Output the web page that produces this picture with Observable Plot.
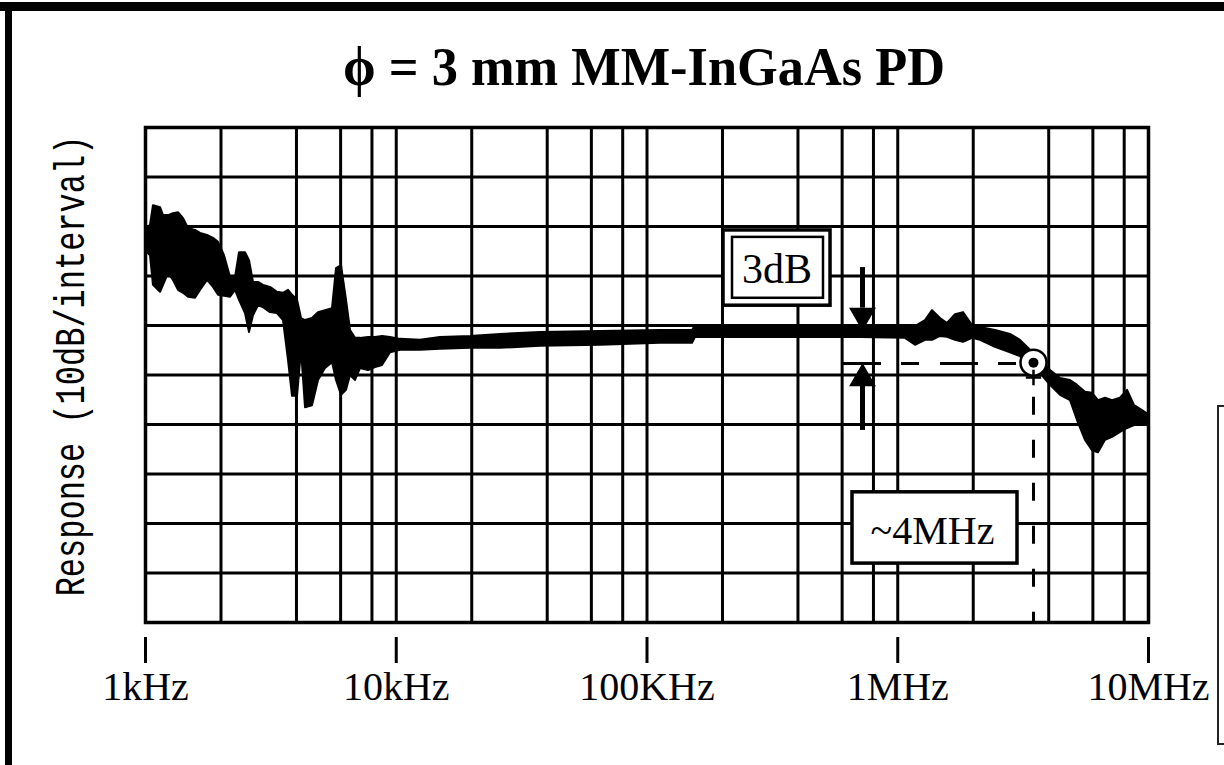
<!DOCTYPE html>
<html><head><meta charset="utf-8">
<script src="https://cdn.jsdelivr.net/npm/d3@7"></script>
<script src="https://cdn.jsdelivr.net/npm/@observablehq/plot@0.6"></script>
<style>
html,body{margin:0;padding:0;background:#fff;}
#wrap{position:relative;width:1224px;height:765px;overflow:hidden;background:#fff;}
#chart{position:absolute;left:0;top:0;}
.overlay{position:absolute;left:0;top:0;pointer-events:none;}
#frameTop{position:absolute;left:0;top:2px;width:1224px;height:9px;background:#000;}
#frameLeft{position:absolute;left:5px;top:2px;width:7px;height:763px;background:#000;}
#sideBox{position:absolute;left:1217px;top:405px;width:40px;height:340px;border:2.5px solid #222;box-sizing:border-box;background:#fff;}
</style></head>
<body><div id="wrap">
<div id="chart"></div>
<svg class="overlay" width="1224" height="765">
  <text id="title" x="644" y="85" text-anchor="middle" font-family="Liberation Serif" font-weight="bold" font-size="54" textLength="602" lengthAdjust="spacingAndGlyphs">ϕ = 3 mm MM-InGaAs PD</text>
  <text id="ylabel" transform="translate(84,366) rotate(-90) scale(1,1.35)" text-anchor="middle" font-family="Liberation Mono" font-size="32">Response (10dB/interval)</text>
</svg>
<div id="frameTop"></div>
<div id="frameLeft"></div>
<div id="sideBox"></div>
</div>
<script>
// ---- data (frequency in kHz, response in dB, 10 dB per grid interval) ----
const freqKHz = [1.000,1.047,1.076,1.148,1.180,1.235,1.293,1.354,1.418,1.484,1.583,1.657,1.767,1.867,1.955,2.066,2.183,2.286,2.371,2.505,2.599,2.696,2.823,2.955,3.151,3.360,3.551,3.719,3.858,4.039,4.190,4.347,4.634,4.897,5.222,5.569,5.778,6.049,6.333,6.570,6.879,7.202,7.750,8.266,8.814,9.486,10.40,12.50,15.01,19.78,26.05,37.61,65.26,113.2,151.9,156.1,283.6,710.3,1074,1177,1290,1376,1481,1579,1700,1829,1987,2138,2454,2817,3086,3383,3710,4067,4458,4887,5211,5608,5980,6318,6739,7186,7733,8250,8797,9465,10000];
const respHigh = [19.6,20.2,24.2,23.8,22.2,22.2,22.6,22.8,21.6,19.6,19.2,18.6,18.2,17.6,16.8,14.1,9.7,9.7,14.7,14.7,13.1,8.7,8.7,8.1,7.7,6.7,6.5,7.1,6.1,5.1,1.4,1.0,1.4,2.6,3.0,3.4,11.5,12.1,5.1,-1.0,-2.6,-2.6,-2.4,-2.4,-2.2,-2.4,-2.8,-3.0,-2.4,-2.2,-1.8,-1.4,-1.2,-1.0,-1.0,0.0,0.0,0.0,0.0,-0.2,1.0,3.0,1.4,0.4,2.2,2.6,0.0,-0.4,-1.0,-1.8,-3.0,-5.0,-7.1,-9.1,-10.7,-11.1,-12.1,-13.5,-13.7,-15.2,-14.7,-15.2,-14.7,-13.1,-16.2,-17.2,-18.0];
const respLow = [15.2,14.1,8.1,6.7,8.1,10.5,9.1,7.1,6.5,5.7,5.5,7.1,9.1,7.7,6.1,5.9,5.7,7.1,5.1,2.4,-1.4,2.0,4.0,3.6,2.6,2.4,1.0,-7.1,-14.3,-14.3,-5.0,-16.6,-16.2,-11.1,-8.7,-7.5,-11.1,-14.1,-13.1,-10.1,-11.1,-8.7,-9.1,-8.5,-8.1,-5.5,-5.0,-5.0,-4.8,-4.6,-4.6,-4.2,-4.0,-3.6,-3.6,-2.4,-2.4,-2.4,-2.6,-4.0,-3.0,-3.0,-2.2,-2.4,-3.0,-3.4,-2.6,-3.0,-4.4,-5.5,-6.3,-8.3,-9.7,-12.1,-14.1,-15.2,-19.2,-23.2,-25.3,-25.7,-23.2,-22.6,-21.6,-20.8,-20.2,-20.2,-20.0];

// axes / grid
const decadeTicks = [1, 10, 100, 1000, 10000];
const tickLabels = ["1kHz", "10kHz", "100KHz", "1MHz", "10MHz"];
const gridFreqKHz = [1,2,4,6,8,10,20,40,60,80,100,200,400,600,800,1000,2000,4000,6000,8000,10000];
const gridDb = [-60,-50,-40,-30,-20,-10,0,10,20,30,40];

// annotations
const cutoffKHz = [3478];           // ~4MHz marker
const cutoffDb = [-7.5];
const threeDbLevel = [-7.7];        // dashed -3dB reference level
const threeDbSpanKHz = [607.8, 3086];
const arrowKHz = [723.5];
const arrowDownDb = [11.7, 2.0];    // shaft top, head
const arrowUpDb = [-21.2, -10.7];   // shaft bottom, head
const box3dbOuter = {x1: 201.9, x2: 539.4, y1: 4.0, y2: 19.2};
const box3dbInner = {x1: 219.3, x2: 505.7, y1: 5.5, y2: 17.8};
const label3db = {f: 329.9, db: 11.3, text: "3dB"};
const boxCutoff = {x1: 660, x2: 3003, y1: -48.1, y2: -33.7};
const labelCutoff = {f: 1376, db: -41.6, text: "~4MHz"};

const curve = freqKHz.map((f, i) => ({f, hi: respHigh[i], lo: respLow[i]}));
const labelMap = new Map(decadeTicks.map((d, i) => [d, tickLabels[i]]));

const chart = Plot.plot({
  width: 1224,
  height: 765,
  marginLeft: 145,
  marginRight: 76,
  marginTop: 127,
  marginBottom: 143,
  style: {background: "transparent", color: "black"},
  x: {type: "log", domain: [1, 10000], axis: null},
  y: {domain: [-60, 40], axis: null},
  marks: [
    Plot.ruleX(gridFreqKHz, {stroke: "black", strokeWidth: 3}),
    Plot.ruleY(gridDb, {stroke: "black", strokeWidth: 3}),
    Plot.frame({stroke: "black", strokeWidth: 3.5}),
    Plot.areaY(curve, {x: "f", y1: "lo", y2: "hi", fill: "black", stroke: "black", strokeWidth: 2}),
    // dashed -3dB level and cutoff line
    Plot.ruleY(threeDbLevel, {x1: threeDbSpanKHz[0], x2: threeDbSpanKHz[1], stroke: "black", strokeWidth: 3, strokeDasharray: "38,20,18,21"}),
    Plot.ruleX(cutoffKHz, {y1: -14.5, y2: -60, stroke: "black", strokeWidth: 3, strokeDasharray: "18,25"}),
    // arrows
    Plot.ruleX(arrowKHz, {y1: arrowDownDb[0], y2: arrowDownDb[1] + 1.5, stroke: "black", strokeWidth: 5}),
    Plot.dot(arrowKHz, {x: d => d, y: [arrowDownDb[1]], symbol: "triangle", rotate: 180, r: 9, fill: "black", stroke: "black"}),
    Plot.ruleX(arrowKHz, {y1: arrowUpDb[0], y2: arrowUpDb[1] - 1.5, stroke: "black", strokeWidth: 5}),
    Plot.dot(arrowKHz, {x: d => d, y: [arrowUpDb[1]], symbol: "triangle", r: 9, fill: "black", stroke: "black"}),
    // 3dB box
    Plot.rect([box3dbOuter], {x1: "x1", x2: "x2", y1: "y1", y2: "y2", fill: "white", stroke: "black", strokeWidth: 3.5}),
    Plot.rect([box3dbInner], {x1: "x1", x2: "x2", y1: "y1", y2: "y2", fill: "none", stroke: "black", strokeWidth: 2.5}),
    Plot.text([label3db], {x: "f", y: "db", text: "text", fontFamily: "Liberation Serif", fontSize: 42, fill: "black"}),
    // ~4MHz box
    Plot.rect([boxCutoff], {x1: "x1", x2: "x2", y1: "y1", y2: "y2", fill: "white", stroke: "black", strokeWidth: 3.5}),
    Plot.text([labelCutoff], {x: "f", y: "db", text: "text", fontFamily: "Liberation Serif", fontSize: 40, fill: "black"}),
    // cutoff marker
    Plot.dot(cutoffKHz, {x: d => d, y: cutoffDb, r: 13, fill: "white", stroke: "black", strokeWidth: 2.5}),
    Plot.dot(cutoffKHz, {x: d => d, y: cutoffDb, r: 5, fill: "black"}),
    Plot.dot(cutoffKHz, {x: d => d, y: [-10.5], symbol: "plus", r: 5, stroke: "black", strokeWidth: 2.5}),
    // bottom axis
    Plot.axisX(decadeTicks, {
      tickSize: 26, dy: 15, tickPadding: 8, strokeWidth: 3,
      tickFormat: d => labelMap.get(d),
      fontSize: 40, fontFamily: "Liberation Serif", fill: "black"
    })
  ]
});
document.getElementById("chart").appendChild(chart);
</script>
</body></html>
